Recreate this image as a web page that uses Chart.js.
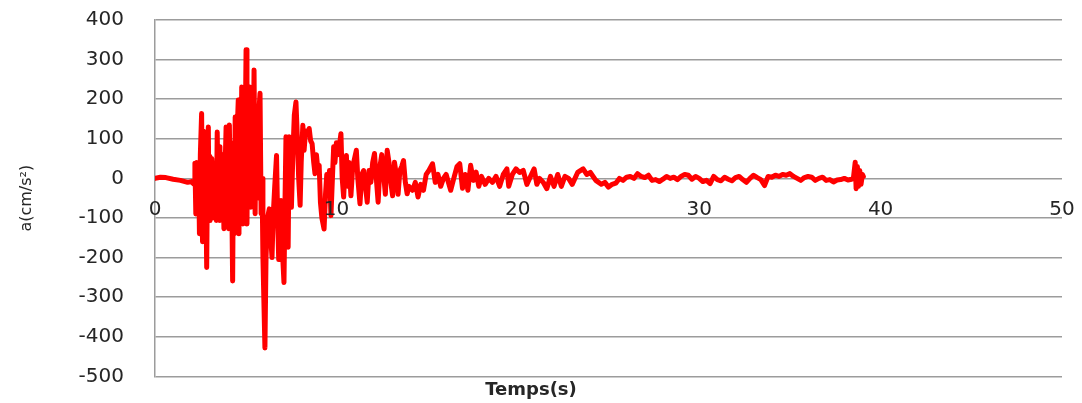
<!DOCTYPE html>
<html>
<head>
<meta charset="utf-8">
<script src="https://cdn.jsdelivr.net/npm/chart.js@4/dist/chart.umd.min.js"></script>
<style>
  html, body { margin: 0; padding: 0; background: #fff; }
  #wrap { width: 1082px; height: 403px; }
</style>
</head>
<body>
<div id="wrap"><canvas id="accChart"></canvas></div>
<script>
// time (s) and acceleration (cm/s²)
const TIMES = [
    0, 0.3, 0.6, 1.0, 1.4, 1.8, 2.0, 2.15,
    2.2, 2.25, 2.3, 2.35, 2.4, 2.45, 2.5, 2.57, 2.62, 2.67, 2.72, 2.78, 2.85, 2.9, 2.94, 2.98,
    3.03, 3.08, 3.13, 3.18, 3.23, 3.28, 3.33, 3.38, 3.43, 3.48, 3.53, 3.58, 3.63, 3.68, 3.73, 3.8, 3.86, 3.92, 3.97,
    4.02, 4.06, 4.1, 4.15, 4.2, 4.28, 4.33, 4.38, 4.42, 4.48, 4.53, 4.59, 4.63, 4.68, 4.73, 4.78, 4.84, 4.9, 4.96,
    5.02, 5.07, 5.12, 5.18, 5.23, 5.28, 5.34, 5.4, 5.46, 5.52, 5.58, 5.64, 5.7, 5.79, 5.85, 5.9, 5.95,
    6.06, 6.12, 6.2, 6.3, 6.38, 6.45, 6.52, 6.6, 6.7, 6.76, 6.82, 6.88, 6.95,
    7.02, 7.11, 7.16, 7.22, 7.28, 7.34, 7.4, 7.46, 7.52, 7.6, 7.68, 7.77, 7.85, 7.92,
    8.0, 8.06, 8.15, 8.22, 8.3, 8.4, 8.5, 8.58, 8.66, 8.75, 8.82, 8.9, 8.98,
    9.05, 9.12, 9.2, 9.32, 9.4, 9.47, 9.55, 9.62, 9.7, 9.78, 9.85, 9.92,
    10.0, 10.1, 10.25, 10.32, 10.4, 10.48, 10.55, 10.62, 10.7, 10.8, 10.9,
    11.0, 11.1, 11.18, 11.3, 11.4, 11.5, 11.6, 11.7, 11.8, 11.9,
    12.0, 12.1, 12.2, 12.3, 12.4, 12.5, 12.6, 12.7, 12.8, 12.9,
    13.0, 13.1, 13.2, 13.3, 13.4, 13.5, 13.6, 13.7, 13.8, 13.9,
    14.0, 14.2, 14.35, 14.5, 14.65, 14.8, 14.95, 15.1, 15.3, 15.45, 15.6, 15.75, 15.9,
    16.05, 16.3, 16.5, 16.65, 16.8, 16.95, 17.1, 17.25, 17.4, 17.55, 17.7, 17.85,
    18.0, 18.2, 18.4, 18.6, 18.8, 19.0, 19.2, 19.4, 19.5, 19.7, 19.9,
    20.1, 20.3, 20.5, 20.7, 20.9, 21.05, 21.2, 21.4, 21.6, 21.8,
    22.0, 22.2, 22.4, 22.6, 22.8, 23.0, 23.3, 23.6, 23.8, 24.0, 24.3, 24.6,
    24.8, 25.0, 25.2, 25.4, 25.6, 25.8, 26.0, 26.2, 26.4, 26.6, 26.8,
    27.0, 27.2, 27.4, 27.6, 27.8, 28.0, 28.2, 28.4, 28.6, 28.8,
    29.0, 29.2, 29.4, 29.6, 29.8, 30.0, 30.2, 30.4, 30.6, 30.8,
    31.0, 31.2, 31.4, 31.6, 31.8, 32.0, 32.2, 32.4, 32.6, 32.8,
    33.0, 33.2, 33.4, 33.6, 33.8, 34.0, 34.2, 34.4, 34.6, 34.8,
    35.0, 35.2, 35.4, 35.6, 35.8, 36.0, 36.2, 36.4, 36.6, 36.8,
    37.0, 37.2, 37.4, 37.6, 37.8, 38.0, 38.2, 38.4, 38.5,
    38.6, 38.65, 38.72, 38.78, 38.85, 38.92, 39.0, 39.05
];
const ACCEL = [
    0, 3, 2, -2, -5, -10, -8, -15,
    38, -90, 40, -60, 30, -140, 60, 164, -160, 120, -100, 50, -225, 60, 130, -106,
    55, -90, 50, -100, 40, -80, 20, -106, 117, -60, 80, -106, 63, -40, 50, -127, 20, 130, -50,
    100, -127, 135, -60, 90, -259, 80, -140, 155, -50, 120, 198, -140, 150, -40, 231, -115, 200, 50,
    325, -115, 150, -60, 231, -73, 200, -40, 274, -89, 180, -50, 150, 215, -89, 0, -200,
    -428, -200, -100, -77, -150, -200, -90, -20, 58, -100, -205, -120, -56,
    -180, -263, -80, 105, -80, -174, 105, -20, -73, 60, 160, 193, 100, 0,
    -68, 40, 134, 71, 120, 110, 126, 95, 88, 40, 12, 60, 20,
    33, -60, -100, -128, -40, 10, -30, 20, -94, 0, 80, 40,
    90, 60, 113, 0, -47, 30, 58, -20, 40, -44, 30,
    50, 71, 0, -64, 10, 20, -20, -60, 20, -10,
    40, 63, 0, -60, 30, 60, 10, -40, 71, 40,
    -10, -44, 41, 10, -40, 20, 30, 45, -10, -39,
    -20, -30, -10, -47, -15, -30, 10, 20, 37, -10, 10, -20, 0,
    10, -30, 5, 30, 37, -25, 10, -30, 33, -5, 16, -20,
    5, -15, 0, -10, 5, -20, 10, 24, -20, 10, 24,
    15, 20, -15, 5, 24, -15, 0, -10, -26, 5,
    -20, 10, -20, 5, 0, -15, 15, 24, 10, 15, -5, -15,
    -10, -22, -15, -12, 0, -5, 3, 5, 0, 12, 5,
    2, 8, -5, -3, -8, -2, 5, 0, 3, -3,
    5, 10, 8, -2, 5, 0, -8, -5, -13, 5,
    -3, -6, 3, -2, -6, 2, 5, -3, -10, 0,
    8, 2, -3, -18, 5, 3, 8, 5, 10, 8,
    12, 5, 0, -5, 2, 5, 3, -5, 0, 3,
    -5, -3, -9, -4, -3, 0, -4, -2, 0,
    41, -26, 30, -20, 20, -15, 10, 5
];
const Y_MIN = -500, Y_MAX = 400, Y_STEP = 100;
const X_MIN = 0, X_MAX = 50, X_STEP = 10;

const GRID = '#9c9c9c';
const TEXT = '#262626';

// the scales ask for room for half their edge labels; drop it so layout.padding rules
function noEdgePadding(scale) {
    scale.paddingLeft = 0;
    scale.paddingRight = 0;
    scale.paddingTop = 0;
    scale.paddingBottom = 0;
}

function initChart() {
    const points = TIMES.map((t, i) => ({ x: t, y: ACCEL[i] }));

    new Chart(document.getElementById('accChart'), {
        type: 'line',
        data: {
            datasets: [{
                data: points,
                borderColor: '#ff0000',
                borderWidth: 5,
                borderJoinStyle: 'round',
                borderCapStyle: 'round',
                pointRadius: 0,
                tension: 0,
                fill: false
            }]
        },
        options: {
            responsive: true,
            maintainAspectRatio: false,
            animation: false,
            layout: { padding: { top: 20, right: 20, left: 0, bottom: 0 } },
            plugins: {
                legend: { display: false },
                tooltip: { enabled: false },
                title: {
                    display: true,
                    position: 'bottom',
                    text: 'Temps(s)',
                    color: TEXT,
                    font: { family: 'DejaVu Sans', size: 18, weight: 'bold' },
                    padding: { top: 3, bottom: 2 }
                }
            },
            scales: {
                x: {
                    type: 'linear',
                    position: { y: 0 },
                    min: X_MIN, max: X_MAX,
                    afterFit: noEdgePadding,
                    grid: { display: false, drawTicks: false },
                    border: { display: false },
                    ticks: {
                        stepSize: X_STEP,
                        padding: 19,
                        color: TEXT,
                        z: 1,
                        maxRotation: 0,
                        font: { family: 'DejaVu Sans', size: 20 }
                    }
                },
                y: {
                    min: Y_MIN, max: Y_MAX,
                    afterFit: scale => {
                        scale.width = 155;
                        noEdgePadding(scale);
                    },
                    grid: { color: GRID, lineWidth: 1.5, drawTicks: false },
                    border: { display: true, color: GRID, width: 1.5 },
                    ticks: {
                        stepSize: Y_STEP,
                        padding: 31,
                        color: TEXT,
                        font: { family: 'DejaVu Sans', size: 20 }
                    },
                    title: {
                        display: true,
                        text: 'a(cm/s²)',
                        color: TEXT,
                        font: { family: 'DejaVu Sans', size: 16 },
                        padding: { top: 17, bottom: 0 }
                    }
                }
            }
        }
    });
}

document.addEventListener('DOMContentLoaded', initChart);
</script>
</body>
</html>
